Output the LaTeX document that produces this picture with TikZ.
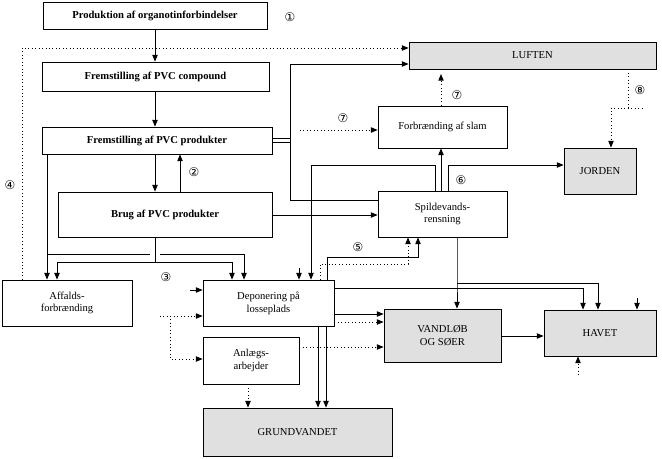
\documentclass[tikz,border=0pt]{standalone}
\usepackage{fontspec}
\setmainfont{Liberation Serif}
\newfontfamily\circfont{DejaVu Sans}
\usetikzlibrary{arrows.meta,positioning}
\tikzset{
	% boxes
	flowbox/.style   ={draw=black,line width=0.6pt,inner sep=1pt,align=center,font=\footnotesize},
	flowboxb/.style  ={flowbox,font=\footnotesize\bfseries},
	envbox/.style    ={flowbox,fill=black!12},
	% lines
	cstra/.style     ={-{Triangle[length=5pt,width=4pt]},line width=0.6pt},
	cstdra/.style    ={cstra,dotted},
	cstline/.style   ={line width=0.6pt},
	cstnum/.style    ={font=\circfont\small,inner sep=0pt}
}
\newcommand{\mkbox}[7]{% style, name, x1, y1, x2, y2, text
	\node[#1,minimum width={(#5-#3)*0.0265cm},minimum height={(#6-#4)*0.0265cm}] (#2) at ({(#3+#5)/2},{(#4+#6)/2}) {#7};}
\begin{document}
\begin{tikzpicture}[x=0.0265cm,y=-0.0265cm]
	\useasboundingbox (0,0) rectangle (662,458);
	% boxes
	\mkbox{flowboxb}{prod}{43}{2}{267}{29}{Produktion af organotinforbindelser}
	\mkbox{flowboxb}{comp}{42}{62}{269}{91}{Fremstilling af PVC compound}
	\mkbox{flowboxb}{prodk}{42}{127}{272}{154}{Fremstilling af PVC produkter}
	\mkbox{flowboxb}{brug}{58}{192}{272}{237}{Brug af PVC produkter}
	\mkbox{envbox}{luft}{409}{42}{656}{69}{LUFTEN}
	\mkbox{flowbox}{slam}{378}{106}{507}{148}{Forbrænding af slam}
	\mkbox{envbox}{jord}{564}{148}{636}{194}{JORDEN}
	\mkbox{flowbox}{spild}{378}{191}{507}{237}{Spildevands-\\rensning}
	\mkbox{flowbox}{affald}{2}{280}{132}{326}{Affalds-\\forbrænding}
	\mkbox{flowbox}{depon}{203}{280}{334}{326}{Deponering på\\losseplads}
	\mkbox{flowbox}{anlaeg}{203}{337}{299}{384}{Anlægs-\\arbejder}
	\mkbox{envbox}{vand}{384}{309}{501}{362}{VANDLØB\\OG SØER}
	\mkbox{envbox}{hav}{544}{310}{656}{356}{HAVET}
	\mkbox{envbox}{grund}{203}{408}{392}{456}{GRUNDVANDET}
	% numbers
	\node[cstnum] (n1) at (290,17) {①};
	\node[cstnum] (n2) at (194,172) {②};
	\node[cstnum] (n3) at (166,277) {③};
	\node[cstnum] (n4) at (10,185) {④};
	\node[cstnum] (n5) at (358,247) {⑤};
	\node[cstnum] (n6) at (461,180) {⑥};
	\node[cstnum] (n7a) at (457,95) {⑦};
	\node[cstnum] (n7b) at (343,118) {⑦};
	\node[cstnum] (n8) at (640,90) {⑧};
	% main chain
	\draw[cstra] (prod.south -| 155,0) -- (comp.north -| 155,0);
	\draw[cstra] (comp.south -| 155,0) -- (prodk.north -| 155,0);
	\draw[cstra] (prodk.south -| 155,0) -- (brug.north -| 155,0);
	\draw[cstra] (brug.north -| 180,0) -- (prodk.south -| 180,0);
	% to air and waste water
	\draw[cstdra] (affald.north -| 22,0) -- (22,48) -- (luft.west |- 0,48);
	\draw[cstline] (prodk.east |- 0,138) -- (290,138);
	\draw[cstline] (prodk.east |- 0,142) -- (290,142);
	\draw[cstra] (spild.west |- 0,200) -- (290,200) -- (290,64) -- (luft.west |- 0,64);
	\draw[cstra] (brug.east |- 0,215) -- (spild.west |- 0,215);
	\draw[cstdra] (300,130) -- (slam.west |- 0,130);
	\draw[cstdra] (slam.north -| 441,0) -- (441,74);
	\draw[cstdra] (luft.south -| 628,0) -- (628,108) -- (611,108) -- (jord.north -| 611,0);
	\draw[cstline,dotted] (628,108) -- (645,108);
	\draw[cstra] (spild.north -| 441,0) -- (slam.south -| 441,0);
	\draw[cstra] (spild.north -| 448,0) -- (448,165) -- (jord.west |- 0,165);
	\draw[cstra] (spild.north -| 435,0) -- (435,165) -- (311,165) -- (depon.north -| 311,0);
	% to waste
	\draw[cstra] (prodk.south -| 47,0) -- (affald.north -| 47,0);
	\draw[cstline] (47,254) -- (150,254);
	\draw[cstra] (160,254) -- (244,254) -- (depon.north -| 244,0);
	\draw[cstra] (brug.south -| 155,0) -- (155,262) -- (57,262) -- (affald.north -| 57,0);
	\draw[cstra] (155,262) -- (232,262) -- (depon.north -| 232,0);
	\coordinate (topin) at (299,268);
	\draw[cstra] (topin) -- (depon.north -| 299,0);
	% landfill to waste water
	\draw[cstdra] (depon.north -| 320,0) -- (320,264) -- (408,264) -- (spild.south -| 408,0);
	\draw[cstra] (depon.north -| 327,0) -- (327,257) -- (418,257) -- (spild.south -| 418,0);
	% waste water to water
	\draw[cstra] (spild.south -| 457,0) -- (457,283) -- (vand.north -| 457,0);
	\draw[cstra] (457,283) -- (598,283) -- (hav.north -| 598,0);
	\draw[cstra] (depon.east |- 0,288) -- (583,288) -- (hav.north -| 583,0);
	\draw[cstra] (depon.east |- 0,314) -- (vand.west |- 0,314);
	\draw[cstdra] (depon.east |- 0,322) -- (vand.west |- 0,322);
	\draw[cstdra] (anlaeg.east |- 0,347) -- (vand.west |- 0,347);
	\draw[cstra] (vand.east |- 0,336) -- (hav.west |- 0,336);
	\coordinate (havin) at (637,298);
	\draw[cstra] (havin) -- (hav.north -| 637,0);
	\coordinate (havout) at (578,375);
	\draw[cstdra] (havout) -- (hav.south -| 578,0);
	% inputs to landfill
	\coordinate (depin) at (190,290);
	\draw[cstra] (depin) -- (depon.west |- 0,290);
	\coordinate (inert) at (160,316);
	\draw[cstdra] (inert) -- (depon.west |- 0,316);
	\draw[cstdra] (170,316) -- (170,359) -- (anlaeg.west |- 0,359);
	% to ground water
	\draw[cstdra] (anlaeg.south -| 248,0) -- (grund.north -| 248,0);
	\draw[cstra] (depon.south -| 318,0) -- (grund.north -| 318,0);
	\draw[cstra] (depon.south -| 326,0) -- (grund.north -| 326,0);
\end{tikzpicture}
\end{document}
